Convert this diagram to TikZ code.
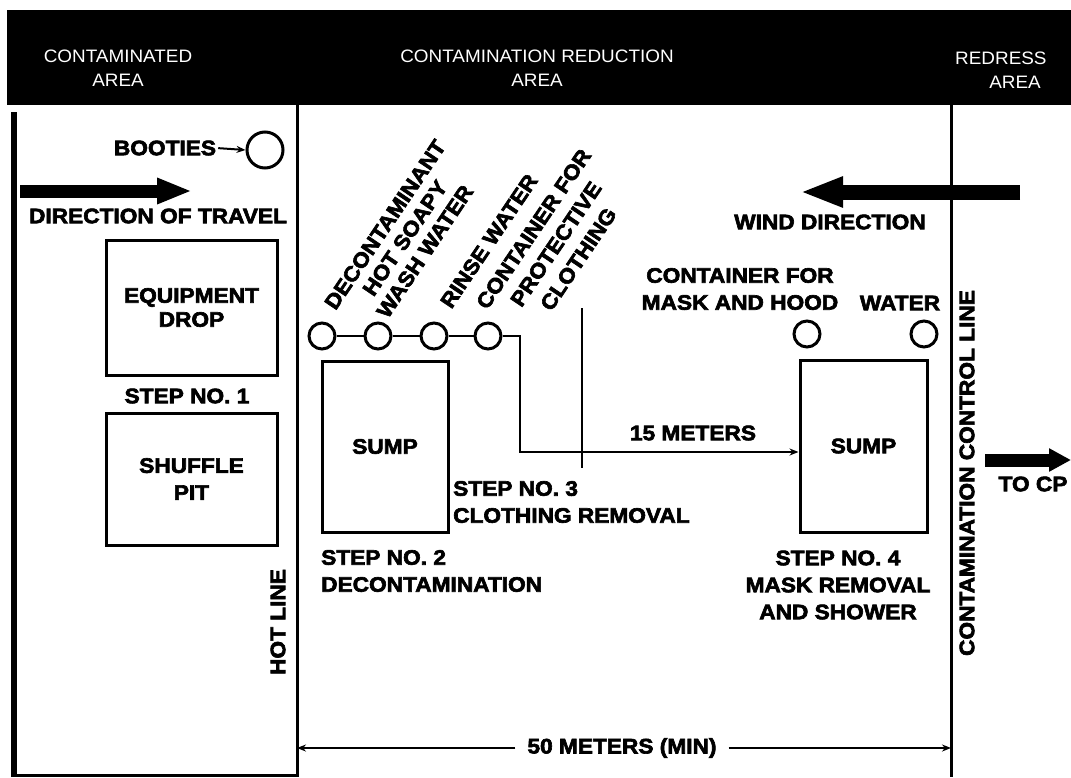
\documentclass[tikz,border=0pt]{standalone}
\usepackage{fontspec}
\setmainfont{Liberation Sans}
\newfontfamily\lblfont{Liberation Sans}[FakeStretch=1.08, BoldFeatures={FakeBold=3}]
\newfontfamily\hdrfont{Liberation Sans}[FakeStretch=1.05]
\usetikzlibrary{arrows.meta}
\begin{document}
\begin{tikzpicture}[x=1pt,y=-1pt,
  lbl/.style={font=\lblfont\bfseries\fontsize{21}{27}\selectfont, inner sep=0pt, align=center},
  lbltight/.style={lbl, font=\lblfont\bfseries\fontsize{21}{24}\selectfont},
  hdr/.style={font=\hdrfont\fontsize{18}{24}\selectfont, text=white, inner sep=0pt, align=center},
  boxst/.style={draw, line width=3pt, inner sep=0pt},
  tank/.style={circle, draw, line width=3pt, minimum size=26pt, inner sep=0pt},
  border/.style={line width=3pt},
  pipe/.style={line width=2.5pt},
  dim/.style={line width=2.2pt, -{Stealth[length=9pt,width=7pt]}},
  bigarrow/.style={line width=13pt, -{Triangle[length=35pt,width=24pt]}},
]
\useasboundingbox (0,0) rectangle (1071,777);
% header band
\fill (7,10) rectangle (1071,105);
\node[hdr] (hA) at (118,68) {CONTAMINATED\\AREA};
\node[hdr] (hB) at (537,68) {CONTAMINATION REDUCTION\\AREA};
\node[hdr, anchor=west] (hC) at (955,58) {REDRESS};
\node[hdr] (hC2) at (1015,82) {AREA};
% area borders
\draw[line width=6pt] (14,112) -- (14,777);
\draw[border] (12,775) -| (297,105);
\draw[border] (951,105) -- (951,777);
\node[lbl, rotate=90] (hotlbl) at (278,622) {HOT LINE};
\node[lbl, rotate=90] (ccllbl) at (967,473) {CONTAMINATION CONTROL LINE};
% contaminated area
\node[lbl] (bootlbl) at (165,148) {BOOTIES};
\node[tank, minimum size=36pt] (bootc) at (265,150) {};
\draw[line width=2pt, -{Stealth[length=9pt,width=7pt]}, shorten <=2pt] (bootlbl.east) -- (bootc.west);
\coordinate (dtS) at (20,191);
\coordinate (dtE) at (192,191);
\draw[bigarrow] (dtS) -- (dtE);
\node[lbl] (dirlbl) at (158,216) {DIRECTION OF TRAVEL};
\node[boxst, lbl, minimum width=171pt, minimum height=135pt] (equip) at (191.5,307.5) {EQUIPMENT\\[-3pt]DROP};
\node[lbl] (step1) at (187,396) {STEP NO. 1};
\node[boxst, lbl, minimum width=171pt, minimum height=132pt] (shuffle) at (191.5,479) {SHUFFLE\\PIT};
% contamination reduction area
\node[tank] (c1) at (322,336) {};
\node[tank] (c2) at (378,336) {};
\node[tank] (c3) at (434,336) {};
\node[tank] (c4) at (488,336) {};
\draw[pipe] (c1) -- (c2) (c2) -- (c3) (c3) -- (c4);
\node[lbltight, rotate=56] (lblA) at (405,238) {DECONTAMINANT\\HOT SOAPY\\WASH WATER};
\node[lbl, rotate=56] (lblB) at (489,241) {RINSE WATER};
\node[lbl, rotate=56] (lblC) at (556,244) {CONTAINER FOR\\PROTECTIVE\\CLOTHING};
\node[boxst, lbl, minimum width=126pt, minimum height=171pt] (sump1) at (385,446.5) {SUMP};
\node[boxst, lbl, minimum width=127pt, minimum height=172pt] (sump2) at (863.5,446) {SUMP};
\coordinate (bend) at (520,452);
\draw[pipe, -{Stealth[length=9pt,width=7pt]}] (c4.east) -| (bend) -- (bend -| sump2.west);
\coordinate (tkT) at (582,308);
\coordinate (tkB) at (582,468);
\draw[pipe] (tkT) -- (tkB);
\node[lbl] (m15) at (693,433) {15 METERS};
\node[lbl, align=left, anchor=west] (step3) at (453,502) {STEP NO. 3\\CLOTHING REMOVAL};
\node[lbl, align=left, anchor=west] (step2) at (321,571) {STEP NO. 2\\DECONTAMINATION};
\node[lbl] (step4) at (838,585) {STEP NO. 4\\MASK REMOVAL\\AND SHOWER};
\node[tank] (m1) at (807,334) {};
\node[tank] (m2) at (924,334) {};
\node[lbl] (maskl) at (740,289) {CONTAINER FOR\\MASK AND HOOD};
\node[lbl] (waterl) at (900,303) {WATER};
\coordinate (wS) at (1020,192);
\coordinate (wE) at (800,192);
\draw[line width=15pt, -{Triangle[length=43pt,width=28pt]}] (wS) -- (wE);
\node[lbl] (windl) at (830,222) {WIND DIRECTION};
% redress area
\coordinate (cpS) at (985,460);
\coordinate (cpE) at (1071,460);
\draw[line width=13pt, -{Triangle[length=22pt,width=22pt]}] (cpS) -- (cpE);
\node[lbl] (tocp) at (1033,484) {TO CP};
% 50 m dimension
\coordinate (d50L) at (297,748);
\coordinate (d50R) at (951,748);
\node[lbl, inner xsep=12pt] (d50) at (622,748) {50 METERS (MIN)};
\draw[dim] (d50.west) -- (d50L);
\draw[dim] (d50.east) -- (d50R);
\end{tikzpicture}
\end{document}
